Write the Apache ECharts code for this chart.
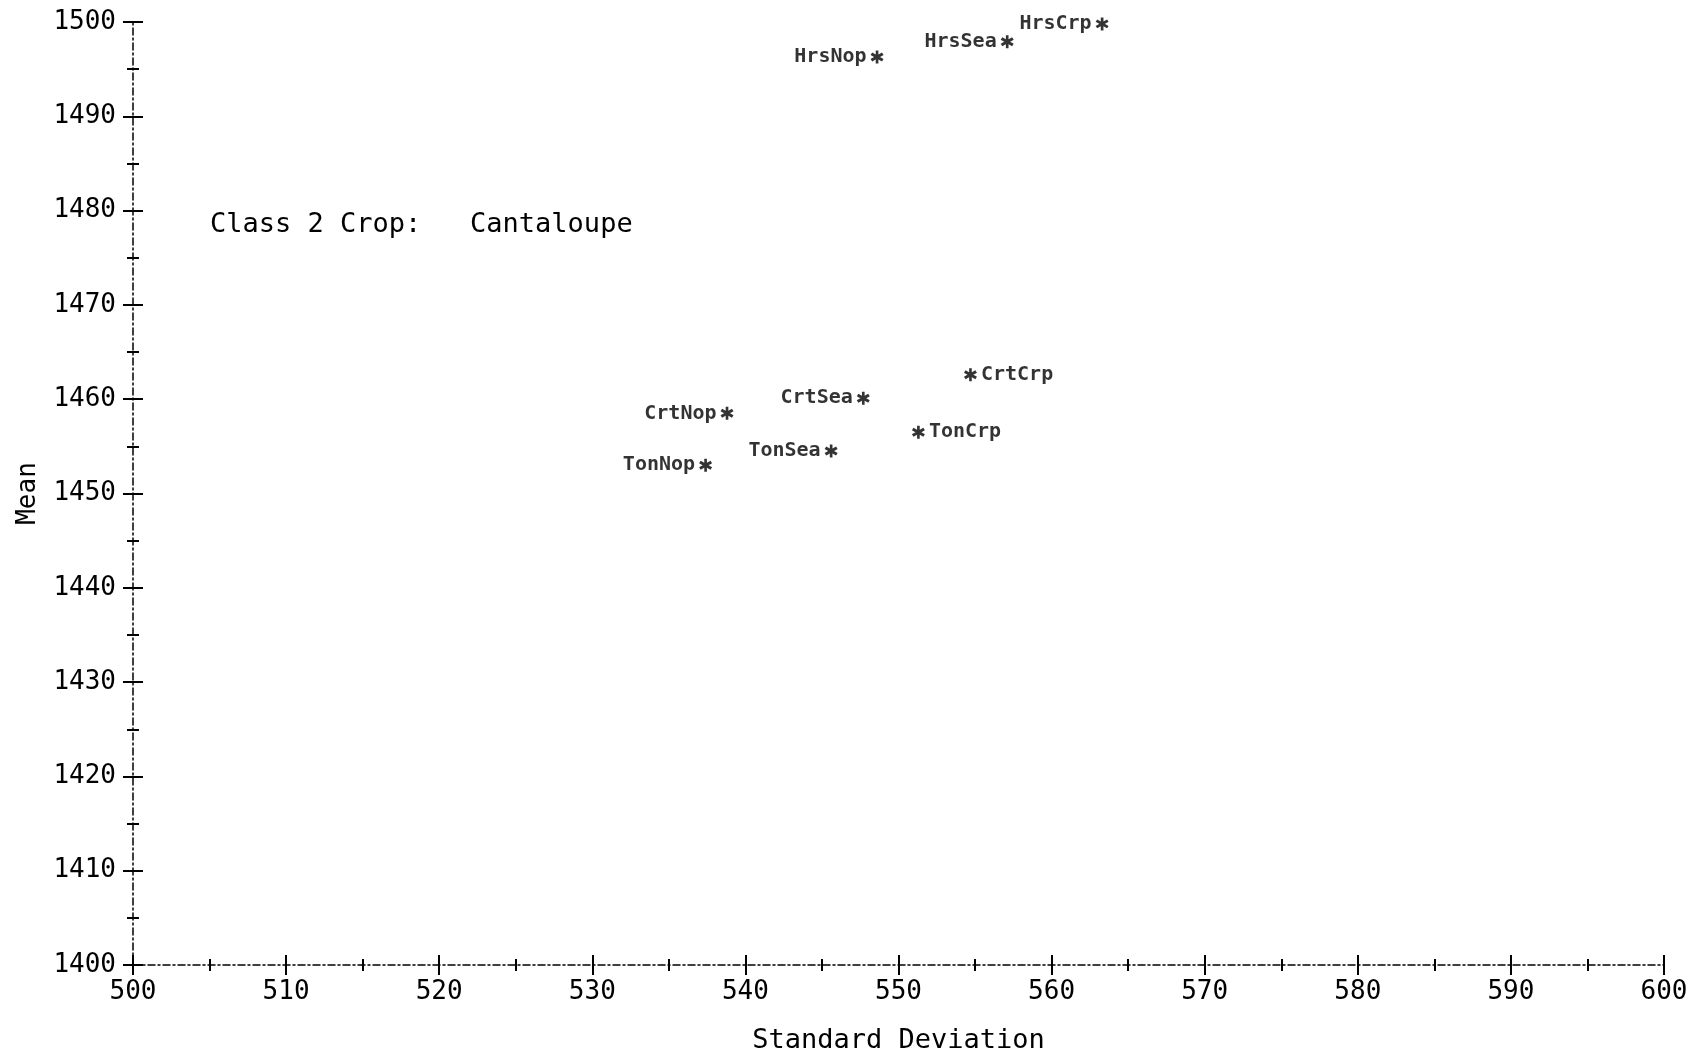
<!DOCTYPE html>
<html>
<head>
<meta charset="utf-8">
<script src="https://cdn.jsdelivr.net/npm/echarts@6/dist/echarts.min.js"></script>
<style>
html,body{margin:0;padding:0;background:#fff;}
#chart{width:1701px;height:1055px;}
</style>
</head>
<body>
<div id="chart"></div>
<script>
// ---- data ----
const pointNames = ['HrsNop','HrsSea','HrsCrp','CrtNop','CrtSea','CrtCrp','TonNop','TonSea','TonCrp'];
const stdDevs   = [548.6, 557.1, 563.3, 538.8, 547.7, 554.7, 537.4, 545.6, 551.3];
const means     = [1496.3, 1497.9, 1499.8, 1458.5, 1460.1, 1462.6, 1453.0, 1454.5, 1456.5];
const xTickRange = [500, 600];
const yTickRange = [1400, 1500];
const annotation = 'Class 2 Crop:   Cantaloupe';
const xName = 'Standard Deviation';
const yName = 'Mean';

// ---- styling ----
const FONT = '"DejaVu Sans Mono", monospace';
const INK = '#000';
const rightLabeled = new Set(['CrtCrp', 'TonCrp']);
const starPath = 'path://M4.0 0 L6.0 0 L6.0 10 L4.0 10 Z ' +
  'M8.7 1.55 L9.9 3.45 L1.3 8.45 L0.1 6.55 Z ' +
  'M1.3 1.55 L9.9 6.55 L8.7 8.45 L0.1 3.45 Z';

const seriesData = pointNames.map((n, i) => ({
  name: n,
  value: [stdDevs[i], means[i]],
  label: { position: rightLabeled.has(n) ? 'right' : 'left' }
}));

const axisLine = { show: true, lineStyle: { color: INK, width: 1.5, type: [7, 3, 2, 3] } };
const plain = v => String(v);

function mkX(inside) {
  return {
    type: 'value', position: 'bottom', min: xTickRange[0], max: xTickRange[1], interval: 10,
    name: inside ? '' : xName, nameLocation: 'middle', nameGap: 62,
    nameTextStyle: { fontFamily: FONT, fontSize: 27, color: INK },
    axisLine: inside ? { show: false } : axisLine,
    axisTick: { show: true, inside: inside, length: 10, lineStyle: { color: INK, width: 2 } },
    minorTick: { show: true, splitNumber: 2, length: 6, lineStyle: { color: INK, width: 2 } },
    axisLabel: { show: !inside, formatter: plain, fontFamily: FONT, fontSize: 26, color: INK, margin: 14 },
    splitLine: { show: false }
  };
}
function mkY(inside) {
  return {
    type: 'value', position: 'left', min: yTickRange[0], max: yTickRange[1], interval: 10,
    name: inside ? '' : yName, nameLocation: 'middle', nameGap: 92, nameRotate: 90,
    nameTextStyle: { fontFamily: FONT, fontSize: 26, color: INK },
    axisLine: inside ? { show: false } : axisLine,
    axisTick: { show: true, inside: inside, length: 10, lineStyle: { color: INK, width: 2 } },
    minorTick: { show: true, splitNumber: 2, length: 6, lineStyle: { color: INK, width: 2 } },
    axisLabel: { show: !inside, formatter: plain, fontFamily: FONT, fontSize: 26, color: INK, margin: 17 },
    splitLine: { show: false }
  };
}

const chart = echarts.init(document.getElementById('chart'), null, { renderer: 'canvas' });
chart.setOption({
  backgroundColor: '#fff',
  animation: false,
  grid: { left: 133, right: 37, top: 22, bottom: 90, containLabel: false, outerBoundsMode: 'none' },
  xAxis: [mkX(false), mkX(true)],
  yAxis: [mkY(false), mkY(true)],
  graphic: [{
    type: 'text', left: 210, top: 211,
    style: { text: annotation, font: '27px ' + FONT, fill: INK }
  }],
  series: [{
    type: 'scatter',
    xAxisIndex: 0, yAxisIndex: 0,
    symbol: starPath,
    symbolSize: 13,
    itemStyle: { color: INK },
    label: {
      show: true,
      formatter: p => p.name,
      fontFamily: FONT, fontWeight: 'bold', fontSize: 20, color: INK,
      distance: 4
    },
    data: seriesData
  }]
});
</script>
</body>
</html>
